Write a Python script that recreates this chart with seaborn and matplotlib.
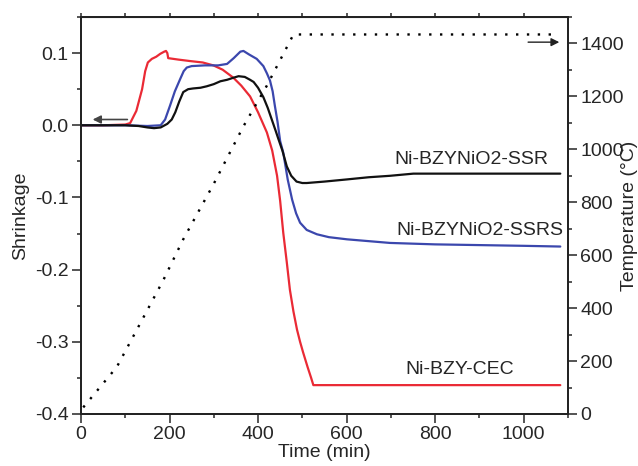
import numpy as np
import pandas as pd
import matplotlib
matplotlib.use("Agg")
import matplotlib.pyplot as plt
from matplotlib.ticker import MultipleLocator, FormatStrFormatter
import seaborn as sns

sns.set_style("ticks")
plt.rcParams['font.family'] = ['Liberation Sans', 'DejaVu Sans']
plt.rcParams['axes.unicode_minus'] = False

# values
cec_t = [0, 50, 100, 111, 125, 138, 145, 151, 160, 170, 179, 188, 192, 195, 197, 220, 246, 275, 299,
         320, 344, 362, 382, 400, 420, 432, 443, 450, 457, 465, 472, 480, 488, 495, 502, 512, 520, 525, 1083]
cec_y = [0, 0, 0.001, 0.003, 0.02, 0.05, 0.075, 0.087, 0.092, 0.095, 0.099, 0.102, 0.103, 0.1, 0.093,
         0.091, 0.089, 0.087, 0.083, 0.077, 0.066, 0.055, 0.04, 0.018, -0.01, -0.035, -0.07, -0.105,
         -0.149, -0.19, -0.228, -0.258, -0.283, -0.3, -0.315, -0.335, -0.35, -0.36, -0.36]

ssrs_t = [0, 100, 150, 180, 190, 201, 212, 224, 232, 239, 250, 280, 310, 330, 345, 360, 367, 380, 397,
          412, 420, 427, 433, 438, 444, 450, 457, 467, 477, 486, 495, 510, 533, 560, 601, 698, 800, 900,
          1000, 1083]
ssrs_y = [0, 0, -0.001, 0, 0.008, 0.027, 0.047, 0.064, 0.075, 0.08, 0.082, 0.083, 0.083, 0.085, 0.093,
          0.102, 0.103, 0.098, 0.092, 0.082, 0.072, 0.062, 0.047, 0.027, 0.005, -0.022, -0.038, -0.075,
          -0.103, -0.122, -0.135, -0.145, -0.151, -0.155, -0.158, -0.163, -0.165, -0.166, -0.167, -0.168]

ssr_t = [0, 100, 130, 150, 165, 180, 195, 205, 213, 222, 231, 242, 253, 270, 284, 300, 315, 330, 345,
         356, 370, 382, 390, 400, 412, 422, 431, 440, 446, 455, 465, 475, 487, 500, 510, 550, 601, 650,
         698, 751, 900, 1083]
ssr_y = [0, 0, -0.001, -0.003, -0.004, -0.003, 0.002, 0.008, 0.018, 0.033, 0.046, 0.05, 0.051, 0.052,
         0.054, 0.057, 0.061, 0.063, 0.066, 0.068, 0.067, 0.063, 0.06, 0.052, 0.039, 0.024, 0.008,
         -0.008, -0.019, -0.035, -0.057, -0.07, -0.078, -0.08, -0.08, -0.078, -0.075, -0.072, -0.07,
         -0.067, -0.067, -0.067]

temp_t = [5, 81, 133, 186, 230, 300, 367, 420, 480, 1078]
temp_c = [25, 178, 340, 506, 657, 870, 1087, 1241, 1434, 1434]

labels = ["Ni-BZY-CEC", "Ni-BZYNiO2-SSRS", "Ni-BZYNiO2-SSR"]
colors = {"Ni-BZY-CEC": "#ea2a35", "Ni-BZYNiO2-SSRS": "#3b47ad", "Ni-BZYNiO2-SSR": "#111111"}

df = pd.concat([
    pd.DataFrame({'time': cec_t, 'shrinkage': cec_y, 'sample': labels[0]}),
    pd.DataFrame({'time': ssrs_t, 'shrinkage': ssrs_y, 'sample': labels[1]}),
    pd.DataFrame({'time': ssr_t, 'shrinkage': ssr_y, 'sample': labels[2]}),
])
temp = pd.DataFrame({'time': temp_t, 'temperature': temp_c})

fig, ax = plt.subplots(figsize=(6.38, 4.66), dpi=100)
fig.subplots_adjust(left=0.127, right=0.890, top=0.9635, bottom=0.1116)

sns.lineplot(data=df, x='time', y='shrinkage', hue='sample', palette=colors,
             estimator=None, sort=False, linewidth=1.6, legend=False, ax=ax)

ax.set_xlim(0, 1100)
ax.set_ylim(-0.4, 0.15)
ax.xaxis.set_major_locator(MultipleLocator(200))
ax.xaxis.set_minor_locator(MultipleLocator(100))
ax.yaxis.set_major_locator(MultipleLocator(0.1))
ax.yaxis.set_minor_locator(MultipleLocator(0.05))
ax.yaxis.set_major_formatter(FormatStrFormatter('%.1f'))
ax.tick_params(which='major', direction='out', length=6.5, width=1.1, labelsize=14, pad=2.5)
ax.tick_params(which='minor', direction='out', length=3, width=1.1)
ax.set_xlabel("Time (min)", fontsize=14, labelpad=0.5)
ax.set_ylabel("Shrinkage", fontsize=14, labelpad=4)

top = ax.secondary_xaxis('top')
top.set_xticks(np.arange(0, 1100, 100))
top.tick_params(direction='out', length=3, width=1.1, labeltop=False)

ax2 = ax.twinx()
sns.lineplot(data=temp, x='time', y='temperature', color='black', linewidth=1.7,
             linestyle=(0, (1, 3.6)), ax=ax2)
ax2.set_ylim(0, 1500)
ax2.yaxis.set_major_locator(MultipleLocator(200))
ax2.yaxis.set_minor_locator(MultipleLocator(100))
ax2.tick_params(which='major', direction='out', length=6.5, width=1.1, labelsize=14, pad=2.5)
ax2.tick_params(which='minor', direction='out', length=3, width=1.1)
ax2.set_ylabel("Temperature (°C)", fontsize=14, labelpad=-2)
ax2.set_xlabel("")

for a in (ax, ax2):
    for s in a.spines.values():
        s.set_linewidth(1.3)
        s.set_color('#222222')

ax.text(1055, -0.047, labels[2], fontsize=14, ha='right', va='center')
ax.text(1090, -0.146, labels[1], fontsize=14, ha='right', va='center')
ax.text(855, -0.339, labels[0], fontsize=14, ha='center', va='center')

ax.annotate("", xy=(20, 0.008), xytext=(111, 0.008),
            arrowprops=dict(arrowstyle='-|>', color='#444444', lw=1.2, mutation_scale=12))
ax2.annotate("", xy=(1087, 1405), xytext=(1004, 1405),
             arrowprops=dict(arrowstyle='-|>', color='#222222', lw=1.0, mutation_scale=12))

fig.savefig("out.png", dpi=100)
